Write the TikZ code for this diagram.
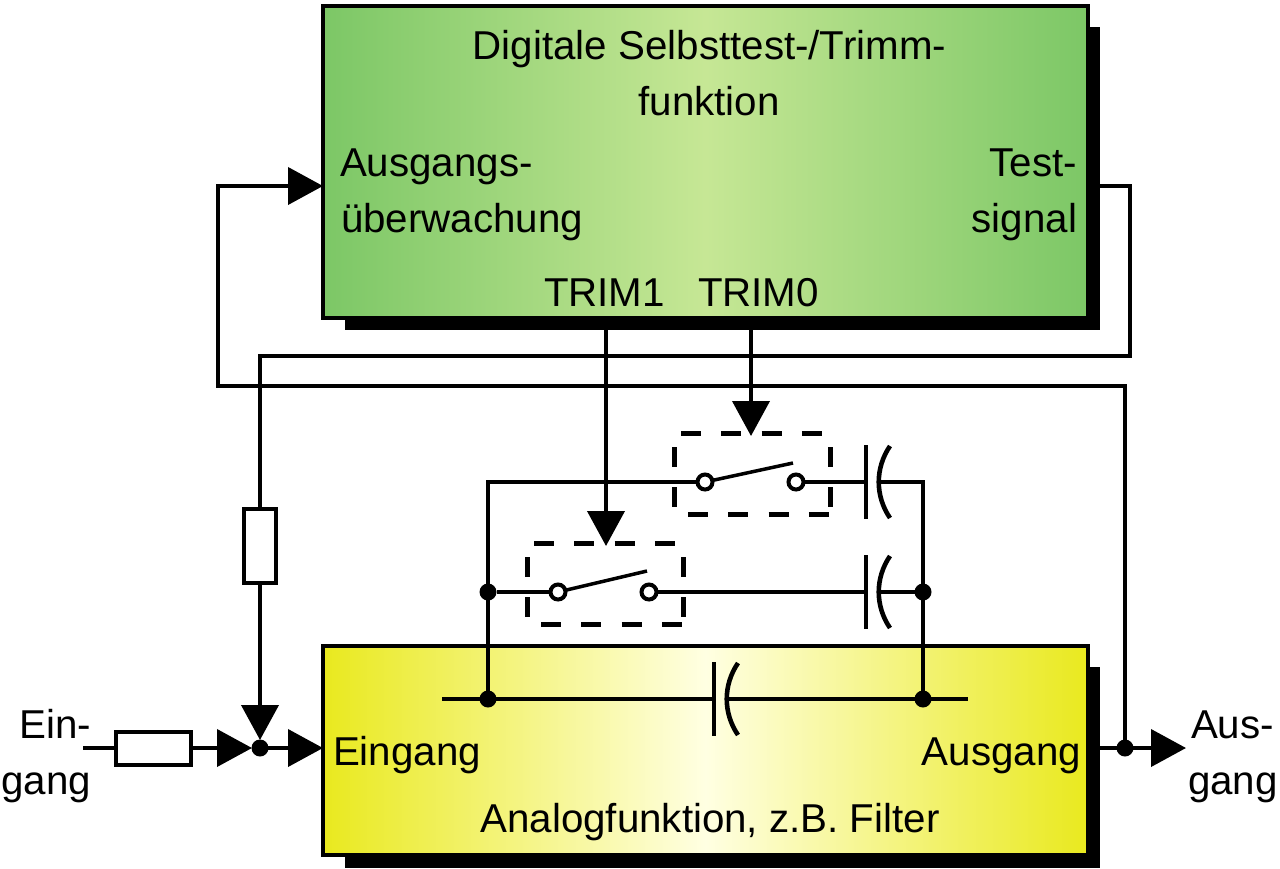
\documentclass[tikz,border=0pt]{standalone}
\usepackage{fontspec}
\setmainfont{Liberation Sans}
\usetikzlibrary{arrows.meta}
\definecolor{gedge}{HTML}{7CC766}
\definecolor{gmid}{HTML}{C6E795}
\definecolor{yedge}{HTML}{E9E91E}
\definecolor{ymid}{HTML}{FFFFE2}
\tikzset{
  x=1pt,y=-1pt,
  wire/.style={line width=4pt,line cap=butt,line join=miter},
  arr/.style={wire,-{Triangle[length=35pt,width=37pt]}},
  box/.style={draw=black,line width=4pt,outer sep=0pt,inner sep=0pt,anchor=north west},
  shadowbox/.style={fill=black,draw=none},
  res/.style={draw=black,fill=white,line width=4pt,inner sep=0pt,outer sep=0pt},
  dotn/.style={circle,fill=black,draw=none,minimum size=17pt,inner sep=0pt,outer sep=0pt},
  contact/.style={circle,fill=white,draw=black,line width=4pt,minimum size=15pt,inner sep=0pt,outer sep=1pt},
  frameline/.style={line width=5pt,dash pattern=on 20pt off 20.3pt},
  lbl/.style={inner sep=0pt,outer sep=0pt,font=\fontsize{40.3pt}{40.3pt}\selectfont}
}
\newcommand{\capsym}[3]{% name, x, y
  \coordinate (#1p) at (#2,#3);
  \coordinate (#1a) at ({#2+13},#3);
  \draw[line width=4.6pt] (#2,{#3-37}) -- (#2,{#3+37});
  \draw[line width=4.6pt] ({#2+24},{#3-36}) .. controls ({#2+9},{#3-14}) and ({#2+9},{#3+14}) .. ({#2+24},{#3+36});
}
\newcommand{\frameb}[2]{% left x, top y
  \draw[frameline] ({#1+7},#2) -- ({#1+156},#2);
  \draw[frameline] (#1,{#2+14}) -- (#1,{#2+81});
  \draw[frameline] ({#1+156},{#2+14}) -- ({#1+156},{#2+81});
  \draw[frameline] ({#1+14},{#2+81}) -- ({#1+156},{#2+81});
}
\begin{document}
\begin{tikzpicture}
\useasboundingbox (0,0) rectangle (1280,868);
% boxes with shadows
\fill[shadowbox] (345,27) rectangle (1100,330);
\fill[shadowbox] (345,667) rectangle (1100,868);
\node[box,minimum width=765pt,minimum height=312pt,left color=gedge,right color=gedge,middle color=gmid] (green) at (323,6) {};
\node[box,minimum width=765pt,minimum height=209pt,left color=yedge,right color=yedge,middle color=ymid] (yellow) at (323,646) {};
% coordinates
\coordinate (fbIn) at (323,186);
\coordinate (fbA) at (218,186);
\coordinate (fbB) at (218,386);
\coordinate (fbC) at (1125,386);
\coordinate (tsOut) at (1100,186);
\coordinate (tsA) at (1130,186);
\coordinate (tsB) at (1130,356);
\coordinate (tsC) at (260,356);
\coordinate (t1s) at (606,318);
\coordinate (t1e) at (606,546);
\coordinate (t0s) at (751,318);
\coordinate (t0e) at (751,436);
\coordinate (yIn) at (323,748);
\coordinate (inS) at (83,748);
\coordinate (outS) at (1100,748);
\coordinate (outE) at (1186,748);
\coordinate (sumTop) at (260,740);
\coordinate (sumLeft) at (252,748);
\coordinate (busL) at (442,699);
\coordinate (busR) at (968,699);
\coordinate (topL) at (488,482);
\coordinate (topR) at (923,482);
\coordinate (bladeA) at (793,463);
\coordinate (bladeB) at (647,571);
% junction dots
\node[dotn] (dsum) at (260,748) {};
\node[dotn] (dout) at (1125,748) {};
\node[dotn] (dl2) at (488,592) {};
\node[dotn] (dr2) at (923,592) {};
\node[dotn] (dl3) at (488,699) {};
\node[dotn] (dr3) at (923,699) {};
% resistors
\node[res,minimum width=75pt,minimum height=33pt] (rin) at (153.5,748) {};
\node[res,minimum width=32pt,minimum height=74pt] (rfb) at (260,546) {};
% switches
\node[contact] (s0a) at (705,482) {};
\node[contact] (s0b) at (796,482) {};
\node[contact] (s1a) at (558,592) {};
\node[contact] (s1b) at (649,592) {};
\frameb{674}{433}
\frameb{527}{543}
% capacitors
\capsym{c0}{866}{482}
\capsym{c1}{866}{592}
\capsym{c2}{714}{699}
% wires
\draw[wire] (tsOut) -- (tsA) -- (tsB) -- (tsC) -- (rfb.north);
\draw[arr] (rfb.south) -- (sumTop);
\draw[arr] (dout.center) -- (fbC) -- (fbB) -- (fbA) -- (fbIn);
\draw[arr] (t1s) -- (t1e);
\draw[arr] (t0s) -- (t0e);
\draw[wire] (inS) -- (rin.west);
\draw[arr] (rin.east) -- (sumLeft);
\draw[arr] (dsum.center) -- (yIn);
\draw[arr] (outS) -- (outE);
\draw[wire] (busL) -- (c2p);
\draw[wire] (c2a) -- (busR);
\draw[wire] (dl3.center) -- (topL) -- (s0a);
\draw[wire] (s0b) -- (c0p);
\draw[wire] (c0a) -- (topR) -- (dr3.center);
\draw[wire] (dl2) -- (s1a);
\draw[wire] (s1b) -- (c1p);
\draw[wire] (c1a) -- (dr2);
\draw[line width=3.5pt] (s0a) -- (bladeA);
\draw[line width=3.5pt] (s1a) -- (bladeB);
% labels
\node[lbl,anchor=base] (tA) at (709.5,59.5) {Digitale Selbsttest-/Trimm-};
\node[lbl,anchor=base] (tB) at (709,115.5) {funktion};
\node[lbl,anchor=base west] (tC) at (340,176.5) {Ausgangs-};
\node[lbl,anchor=base west] (tD) at (341,232.5) {überwachung};
\node[lbl,anchor=base east] (tE) at (1077,176.5) {Test-};
\node[lbl,anchor=base east] (tF) at (1077,232.5) {signal};
\node[lbl,anchor=base west] (tG) at (544,306.5) {TRIM1};
\node[lbl,anchor=base west] (tH) at (698,306.5) {TRIM0};
\node[lbl,anchor=base west] (tI) at (333,765) {Eingang};
\node[lbl,anchor=base east] (tJ) at (1081,765) {Ausgang};
\node[lbl,anchor=base] (tK) at (710,832) {Analogfunktion, z.B. Filter};
\node[lbl,anchor=base east] (tL) at (91,738) {Ein-};
\node[lbl,anchor=base east] (tM) at (91,794) {gang};
\node[lbl,anchor=base west] (tN) at (1191,738) {Aus-};
\node[lbl,anchor=base west] (tO) at (1188,794) {gang};
\end{tikzpicture}
\end{document}
